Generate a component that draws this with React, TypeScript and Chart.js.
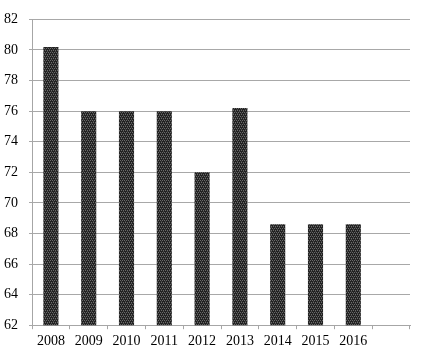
import React, { useEffect, useRef } from "react";
import { Chart, registerables } from "chart.js";

Chart.register(...registerables);

const categories = ["2008", "2009", "2010", "2011", "2012", "2013", "2014", "2015", "2016", ""];
const values: (number | null)[] = [80.2, 76.0, 76.0, 76.0, 72.0, 76.2, 68.6, 68.6, 68.6, null];
const yMin = 62;
const yMax = 82;
const yStep = 2;

function makePattern(): CanvasPattern | string {
  const c = document.createElement("canvas");
  c.width = 4;
  c.height = 4;
  const ctx = c.getContext("2d");
  if (!ctx) return "#333";
  ctx.fillStyle = "#222222";
  ctx.fillRect(0, 0, 4, 4);
  ctx.fillStyle = "#6a6a6a";
  ctx.fillRect(0, 0, 1, 1);
  ctx.fillRect(2, 0, 1, 1);
  ctx.fillRect(1, 2, 1, 1);
  ctx.fillRect(3, 2, 1, 1);
  ctx.fillStyle = "#444444";
  ctx.fillRect(1, 1, 1, 1);
  ctx.fillRect(3, 3, 1, 1);
  const p = ctx.createPattern(c, "repeat");
  return p || "#333";
}

export default function App() {
  const ref = useRef<HTMLCanvasElement>(null);
  useEffect(() => {
    if (!ref.current) return;
    const pattern = makePattern();
    const font = { family: "'Liberation Serif', 'DejaVu Serif', serif", size: 14 };
    const chart = new Chart(ref.current, {
      type: "bar",
      data: {
        labels: categories,
        datasets: [
          {
            data: values,
            backgroundColor: pattern as any,
            borderWidth: 0,
            barPercentage: 0.4,
            categoryPercentage: 1,
          },
        ],
      },
      options: {
        animation: false,
        responsive: false,
        layout: { padding: { left: 0, right: 27, top: 13, bottom: 0 } },
        plugins: { legend: { display: false }, tooltip: { enabled: false } },
        scales: {
          x: {
            offset: true,
            grid: {
              offset: true,
              drawOnChartArea: false,
              drawTicks: true,
              tickLength: 4,
              color: "#a6a6a6",
            },
            border: { color: "#a6a6a6" },
            ticks: { color: "#000", font, padding: 4, maxRotation: 0, autoSkip: false },
          },
          y: {
            min: yMin,
            max: yMax,
            afterFit: (scale: any) => {
              scale.width = 32;
            },
            grid: { color: "#a8a8a8", tickLength: 3 },
            border: { color: "#a6a6a6" },
            ticks: { stepSize: yStep, color: "#000", font, padding: 11 },
          },
        },
      },
    });
    return () => chart.destroy();
  }, []);
  return (
    <div style={{ position: "absolute", left: 0, top: 0, width: 437, height: 354, background: "#fff" }}>
      <canvas ref={ref} width={437} height={354} />
    </div>
  );
}
